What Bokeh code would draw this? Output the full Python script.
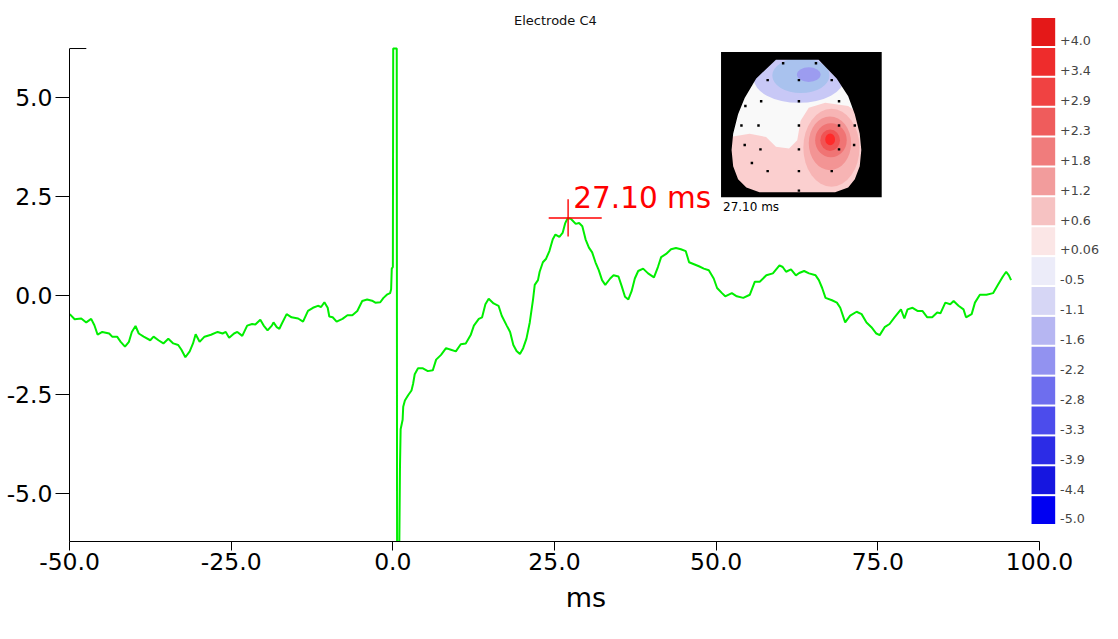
from bokeh.plotting import figure
from bokeh.models import Range1d, FixedTicker
from bokeh.core.properties import value
from bokeh.embed import file_html
from bokeh.resources import INLINE

FONT = "DejaVu Sans"

# ---------------- data ----------------
time_ms = [
    -49.97, -49.21, -48.19, -47.42, -46.66, -46.16, -45.66, -44.94, -43.87, -43.41,
    -42.65, -42.09, -41.43, -40.82, -40.37, -39.80, -39.30, -38.54, -37.52, -37.01,
    -36.25, -35.49, -34.73, -33.96, -33.20, -32.70, -32.09, -31.42, -30.91, -30.50,
    -29.89, -29.13, -28.13, -27.10, -26.34, -25.84, -25.32, -24.56, -24.05, -23.29,
    -22.53, -21.77, -21.27, -20.50, -19.98, -19.38, -18.72, -18.46, -17.96, -17.55,
    -17.20, -16.43, -15.67, -14.65, -13.89, -13.13, -12.36, -11.60, -11.10, -10.59,
    -10.08, -9.83, -9.31, -8.70, -7.79, -7.03, -6.27, -5.50, -4.74, -3.98,
    -3.22, -2.71, -1.95, -1.45, -0.93, -0.43, -0.27, -0.17, 0.00,
    0.05, 0.60, 0.65, 1.00,
    1.10, 1.20, 1.51, 1.60, 1.86, 2.36, 2.88, 3.13, 3.38, 3.89,
    4.65, 5.41, 6.17, 6.69, 7.45, 8.22, 8.98, 9.74, 10.50, 11.27,
    12.03, 12.53, 13.29, 13.80, 14.31, 14.82, 15.58, 16.34, 16.84, 17.61,
    18.13, 18.63, 19.13, 19.65, 20.15, 20.66, 21.17, 21.68, 21.94, 22.44,
    22.70, 23.20, 23.70, 24.22, 24.73, 25.14, 25.75, 26.25, 26.66, 27.01,
    27.52, 28.28, 28.80, 29.30, 29.80, 30.32, 30.82, 31.33, 31.84, 32.35,
    32.85, 33.61, 34.13, 34.89, 35.40, 35.90, 36.42, 36.92, 37.42, 37.94,
    38.70, 39.47, 40.38, 40.99, 41.49, 42.26, 43.02, 43.78, 44.54, 45.30,
    45.81, 46.57, 47.33, 48.09, 48.86, 49.62, 50.14, 50.90, 51.40, 52.42,
    53.19, 54.19, 55.21, 55.98, 56.74, 57.76, 58.77, 59.79, 60.29, 60.81,
    61.57, 62.33, 62.84, 63.60, 64.36, 65.38, 65.88, 66.39, 66.91, 67.91,
    68.67, 69.19, 69.95, 70.72, 71.72, 72.49, 73.25, 74.01, 74.77, 75.29,
    76.05, 76.81, 77.58, 78.58, 79.10, 79.60, 80.37, 81.13, 81.89, 82.65,
    83.41, 84.18, 84.68, 85.44, 86.20, 86.72, 87.48, 88.25, 88.64, 89.51,
    90.02, 90.78, 91.80, 92.82, 93.58, 94.34, 94.85, 95.26, 95.61,
]
amp_uv = [
    -0.46, -0.59, -0.57, -0.67, -0.58, -0.74, -0.98, -0.91, -0.95, -1.03,
    -1.03, -1.16, -1.28, -1.16, -0.91, -0.76, -0.95, -1.03, -1.12, -1.03,
    -1.12, -1.20, -1.08, -1.20, -1.24, -1.36, -1.55, -1.40, -1.20, -0.97,
    -1.16, -1.03, -0.98, -0.91, -0.95, -0.91, -1.06, -0.95, -0.91, -1.01,
    -0.75, -0.71, -0.72, -0.60, -0.75, -0.87, -0.75, -0.67, -0.79, -0.83,
    -0.71, -0.46, -0.54, -0.57, -0.65, -0.38, -0.30, -0.25, -0.28, -0.16,
    -0.30, -0.52, -0.54, -0.65, -0.58, -0.49, -0.49, -0.38, -0.13, -0.09,
    -0.12, -0.17, -0.16, -0.05, 0.03, 0.07, 0.17, 0.69, 0.73,
    6.25, 6.25, -6.21, -6.21,
    -4.32, -3.37, -3.13, -2.80, -2.64, -2.51, -2.39, -2.22, -1.98, -1.83,
    -1.83, -1.90, -1.88, -1.61, -1.49, -1.32, -1.36, -1.40, -1.22, -1.20,
    -0.99, -0.75, -0.58, -0.54, -0.21, -0.07, -0.19, -0.25, -0.50, -0.75,
    -0.91, -1.24, -1.39, -1.47, -1.32, -1.08, -0.67, -0.09, 0.28, 0.40,
    0.61, 0.85, 0.94, 1.14, 1.43, 1.55, 1.49, 1.59, 1.84, 1.96,
    1.95, 1.82, 1.84, 1.76, 1.43, 1.22, 1.10, 0.85, 0.65, 0.40,
    0.28, 0.44, 0.52, 0.49, 0.24, -0.02, -0.09, 0.12, 0.44, 0.63,
    0.69, 0.57, 0.47, 0.73, 0.98, 1.06, 1.18, 1.21, 1.18, 1.13,
    0.85, 0.80, 0.75, 0.69, 0.65, 0.44, 0.20, 0.07, -0.01, 0.07,
    -0.01, -0.05, 0.03, 0.36, 0.36, 0.52, 0.57, 0.77, 0.73, 0.61,
    0.67, 0.52, 0.58, 0.63, 0.57, 0.52, 0.40, 0.20, -0.05, -0.11,
    -0.17, -0.30, -0.67, -0.50, -0.40, -0.46, -0.67, -0.79, -0.95, -0.99,
    -0.79, -0.71, -0.54, -0.34, -0.57, -0.34, -0.30, -0.38, -0.38, -0.54,
    -0.54, -0.42, -0.44, -0.17, -0.21, -0.13, -0.25, -0.34, -0.54, -0.46,
    -0.17, 0.03, 0.03, 0.07, 0.28, 0.49, 0.61, 0.52, 0.40,
]

x_ticks = [-50, -25, 0, 25, 50, 75, 100]
x_tick_labels = ["-50.0", "-25.0", "0.0", "25.0", "50.0", "75.0", "100.0"]
y_ticks = [-5, -2.5, 0, 2.5, 5]
y_tick_labels = ["-5.0", "-2.5", "0.0", "2.5", "5.0"]

title_text = "Electrode C4"
x_label = "ms"

peak_ms = 27.10
peak_uv = 1.97
peak_label = "27.10 ms"

cbar_labels = ["+4.0", "+3.4", "+2.9", "+2.3", "+1.8", "+1.2", "+0.6", "+0.06",
               "-0.5", "-1.1", "-1.6", "-2.2", "-2.8", "-3.3", "-3.9", "-4.4", "-5.0"]
cbar_colors = ["#e41818", "#ee2c2c", "#f04242", "#ef5c5c", "#f07c7c", "#f29c9c",
               "#f6c2c2", "#fbe6e6", "#ececf9", "#d6d6f5", "#b6b6f2", "#9292f0",
               "#6e6eee", "#4c4cec", "#2c2ce6", "#1616e0", "#0000f2"]

# scalp map (inset, reference-pixel units)
head_x = [786.7, 830, 848.3, 860, 866.7, 871.7, 873.3, 871.7, 866.7, 860,
          846.7, 770, 756.7, 748.3, 743.3, 741.7, 743.3, 748.3, 755, 766.7]
head_y = [60.7, 60.7, 80, 98.3, 116.7, 136.7, 153.3, 170, 183.3, 191.7,
          196.7, 196.7, 191.7, 183.3, 170, 153.3, 136.7, 116.7, 100, 80]
pink_x = [740, 760, 776.7, 786.7, 800, 808.3, 811.7, 820, 836.7, 860, 876.7, 876.7, 740]
pink_y = [140, 136.7, 140, 150, 151.7, 143.3, 123.3, 110, 105, 108.3, 120, 200, 200]
blob_x = [810, 812, 820, 843, 841.5, 842.5, 841.7, 841.7]
blob_y = [80, 77, 76, 151, 146.5, 143.3, 143.3, 142.5]
blob_w = [92, 58, 24, 57, 43, 32, 20, 10]
blob_h = [50, 36, 15, 80, 55, 35, 22, 12]
blob_c = ["#c8c8f6", "#a9c2ee", "#9c9cf0", "#f7b4b4", "#f39494", "#f07474", "#f05454", "#ff2a2a"]
electrode_x = [794, 827.3, 778.3, 810, 843.3, 771.7, 810, 850.7, 755.7, 865.7,
               751.7, 769, 810, 850.7, 866.7, 755, 771, 810, 850.7, 866,
               762.3, 778.3, 810, 843.3, 810]
electrode_y = [64.3, 64.3, 81.7, 81.7, 81.7, 103.3, 103.3, 103.3, 108.3, 108.3,
               128.3, 128.3, 128.3, 128.3, 128.3, 148.3, 152.7, 152.7, 152.7, 148.3,
               166.7, 175, 175, 175, 195]
inset_box = (731, 894, 52.7, 201.7)

# ---------------- figure geometry ----------------
W, H = 1102, 623
REF_W, REF_H = 1118, 639
KX, KY = W / REF_W, H / REF_H
AXIS_X_REF, AXIS_Y_REF = 70, 555          # y-axis / x-axis position (reference px)
ZERO_Y_REF = 303
PX_PER_MS, PX_PER_UV = 6.56, 40.6         # reference px per unit
LEFT = round(AXIS_X_REF * KX)
FRAME_BOTTOM = round(AXIS_Y_REF * KY)
BOTTOM = H - FRAME_BOTTOM

px_left, px_right = LEFT / KX, W / KX
py_top, py_bottom = 0.0, FRAME_BOTTOM / KY
x0 = x_ticks[0] - 0.01
x1 = x0 + (px_right - px_left) / PX_PER_MS
y1 = (ZERO_Y_REF - py_top) / PX_PER_UV
y0 = -(py_bottom - ZERO_Y_REF) / PX_PER_UV

p = figure(width=W, height=H, output_backend="svg", toolbar_location=None,
           x_range=Range1d(x0, x1), y_range=Range1d(y0, y1),
           min_border_left=LEFT, min_border_right=0, min_border_top=0,
           min_border_bottom=BOTTOM, background_fill_color="white",
           border_fill_color="white", outline_line_color=None)
p.extra_x_ranges = {"px": Range1d(px_left, px_right)}
p.extra_y_ranges = {"py": Range1d(py_bottom, py_top)}
p.xgrid.visible = False
p.ygrid.visible = False

y_top = 6.25
xa = p.xaxis[0]
xa.ticker = FixedTicker(ticks=x_ticks)
xa.major_label_overrides = {t: l for t, l in zip(x_ticks, x_tick_labels)}
xa.bounds = (x0, x_ticks[-1])
xa.minor_tick_line_color = None
xa.major_tick_out = 9
xa.major_tick_in = 0
xa.major_label_standoff = 2
xa.major_label_text_font = FONT
xa.major_label_text_font_size = "23.5px"
xa.major_label_text_color = "black"
xa.axis_line_color = "black"
xa.major_tick_line_color = "black"
xa.axis_label = x_label
xa.axis_label_text_font = FONT
xa.axis_label_text_font_size = "27px"
xa.axis_label_text_font_style = "normal"
xa.axis_label_text_color = "black"
xa.axis_label_standoff = 9

ya = p.yaxis[0]
ya.ticker = FixedTicker(ticks=y_ticks)
ya.major_label_overrides = {t: l for t, l in zip(y_ticks, y_tick_labels)}
ya.bounds = (y0, y_top)
ya.minor_tick_line_color = None
ya.major_tick_out = 14
ya.major_tick_in = 0
ya.major_label_standoff = 3
ya.major_label_text_font = FONT
ya.major_label_text_font_size = "23.5px"
ya.major_label_text_color = "black"
ya.axis_line_color = "black"
ya.major_tick_line_color = "black"

# small cap at the top of the y axis
p.segment(x0=[x0], y0=[y_top], x1=[x0 + 2.6], y1=[y_top], line_color="black", line_width=1)

# trace
p.line(time_ms, amp_uv, line_color="#00ee00", line_width=2)

# peak marker
p.segment(x0=[peak_ms - 3.0, peak_ms], y0=[peak_uv, peak_uv - 0.47],
          x1=[peak_ms + 5.2, peak_ms], y1=[peak_uv, peak_uv + 0.47],
          line_color="#ff0000", line_width=1.4)
p.text(x=[peak_ms + 0.8], y=[peak_uv + 0.5], text=[peak_label], text_color="#ff0000",
       text_font=value(FONT), text_font_size="29.5px", text_baseline="middle",
       text_align="left")

# title
p.text(x=[563], y=[20.5], text=[title_text], x_range_name="px", y_range_name="py",
       text_font=value(FONT), text_font_size="13px", text_color="#111111",
       text_baseline="middle", text_align="center")

# colour bar
n = len(cbar_labels)
step = 30.65
cb_top = 18
p.rect(x=[1058] * n, y=[cb_top + step * i + 14.3 for i in range(n)], width=24,
       height=28.6, fill_color=cbar_colors, line_color=None,
       x_range_name="px", y_range_name="py")
p.text(x=[1075] * n, y=[cb_top + step * i + 23.3 for i in range(n)], text=cbar_labels,
       x_range_name="px", y_range_name="py", text_font=value(FONT),
       text_font_size="12.7px", text_color="#444444", text_baseline="middle",
       text_align="left")

# scalp map inset
p.patch(head_x, head_y, fill_color="#f9f9f9", line_color=None,
        x_range_name="px", y_range_name="py")
p.patch(pink_x, pink_y, fill_color="#fbcfcf", line_color=None,
        x_range_name="px", y_range_name="py")
p.ellipse(x=blob_x, y=blob_y, width=blob_w, height=blob_h, fill_color=blob_c,
          line_color=None, x_range_name="px", y_range_name="py")
bx0, bx1, by0, by1 = inset_box
p.multi_polygons(xs=[[[[bx0, bx1, bx1, bx0], head_x]]],
                 ys=[[[[by0, by0, by1, by1], head_y]]],
                 fill_color="black", line_color=None,
                 x_range_name="px", y_range_name="py")
p.rect(x=electrode_x, y=electrode_y, width=2.5, height=2.5, fill_color="black",
       line_color=None, x_range_name="px", y_range_name="py")
p.text(x=[733], y=[212], text=[peak_label], x_range_name="px", y_range_name="py",
       text_font=value(FONT), text_font_size="12px", text_color="black",
       text_baseline="middle", text_align="left")

open("out.html", "w").write(file_html(p, INLINE))
